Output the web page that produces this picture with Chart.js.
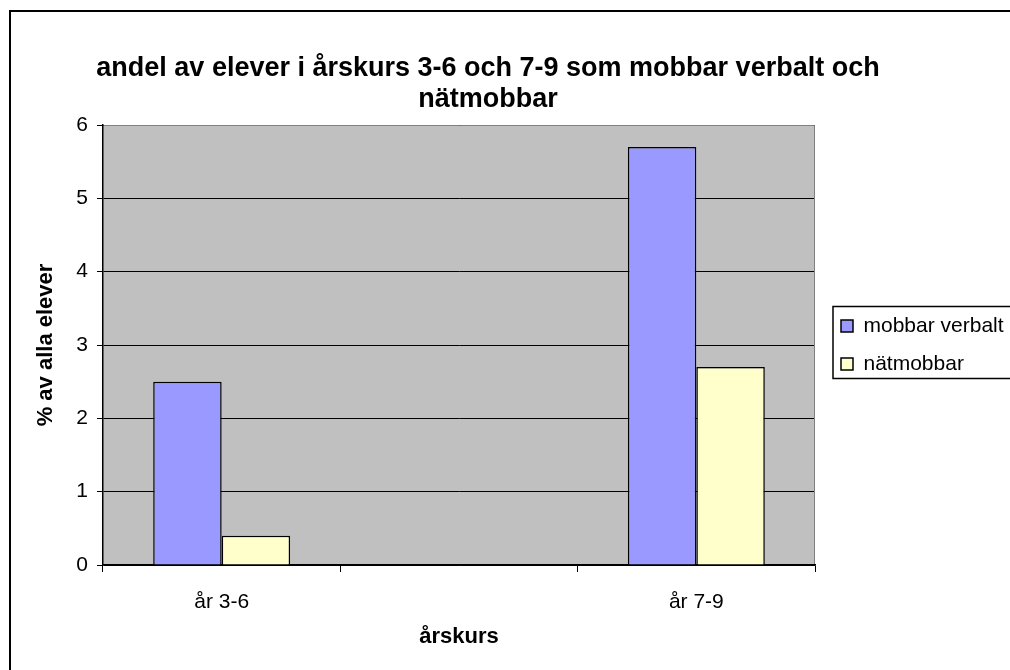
<!DOCTYPE html>
<html>
<head>
<meta charset="utf-8">
<script src="https://cdn.jsdelivr.net/npm/chart.js@4.4.0/dist/chart.umd.min.js"></script>
<style>
  html, body { margin: 0; padding: 0; background: #fff; overflow: hidden; }
  canvas { display: block; }
</style>
</head>
<body>
<canvas id="chart" width="1040" height="690"></canvas>
<script>
const categories = ["år 3-6", "", "år 7-9"];
const verbalValues = [2.5, null, 5.7];
const natValues = [0.4, null, 2.7];
const seriesNames = ["mobbar verbalt", "nätmobbar"];
const yTicks = [0, 1, 2, 3, 4, 5, 6];
const titleLines = ["andel av elever i årskurs 3-6 och 7-9 som mobbar verbalt och", "nätmobbar"];

Chart.defaults.font.family = '"Liberation Sans", Arial, sans-serif';
Chart.defaults.color = "#000";

// excel look: grey plot area, grey top/right edge, legend frame, outer frame
const excelFrame = {
  id: "excelFrame",
  afterLayout(chart) {
    chart.legend.left += 9;
    chart.legend.right += 9;
    // title is centred a bit left of the full width, like the original
    const t = chart.titleBlock;
    const shift = 488 - (t.left + t.right) / 2;
    t.left += shift;
    t.right += shift;
  },
  beforeDraw(chart) {
    const { ctx, chartArea: a } = chart;
    ctx.save();
    ctx.fillStyle = "#c0c0c0";
    ctx.fillRect(a.left, a.top, a.right - a.left, a.bottom - a.top);
    ctx.restore();
  },
  afterDraw(chart) {
    const { ctx, chartArea: a } = chart;
    const hb = chart.legend.legendHitBoxes;
    ctx.save();
    ctx.strokeStyle = "#808080";
    ctx.lineWidth = 1;
    ctx.beginPath();
    ctx.moveTo(a.left + 1, a.top + 0.5);
    ctx.lineTo(a.right - 0.5, a.top + 0.5);
    ctx.lineTo(a.right - 0.5, a.bottom - 1);
    ctx.stroke();

    ctx.strokeStyle = "#000";
    ctx.lineWidth = 1.5;
    const top = hb[0].top - 9;
    const bottom = hb[1].top + hb[1].height + 4;
    ctx.strokeRect(hb[0].left - 8, top, chart.width, bottom - top);

    ctx.lineWidth = 2;
    ctx.strokeRect(10, 11, chart.width - 20, chart.height - 22);
    ctx.restore();
  },
};

new Chart(document.getElementById("chart"), {
  type: "bar",
  data: {
    labels: categories,
    datasets: [
      {
        label: seriesNames[0],
        data: verbalValues,
        backgroundColor: "#9999ff",
        borderColor: "#000",
        borderWidth: 1.5,
      },
      {
        label: seriesNames[1],
        data: natValues,
        backgroundColor: "#ffffcc",
        borderColor: "#000",
        borderWidth: 1.5,
      },
    ],
  },
  options: {
    responsive: false,
    animation: false,
    layout: { padding: { left: 30, top: 12, right: 40, bottom: 12 } },
    datasets: { bar: { barPercentage: 1, categoryPercentage: 0.577 } },
    plugins: {
      title: {
        display: true,
        text: titleLines,
        font: { size: 27, weight: "bold", lineHeight: 31 / 27 },
        padding: { top: 41.5, bottom: 9.5 },
      },
      legend: {
        position: "right",
        maxWidth: 185,
        labels: {
          font: { size: 21 },
          boxWidth: 12,
          boxHeight: 12,
          padding: 17,
        },
      },
      tooltip: { enabled: false },
    },
    scales: {
      x: {
        afterFit(scale) {
          scale.height = 113;
        },
        grid: { offset: true, drawOnChartArea: false, drawTicks: true, tickLength: 7, color: "#000" },
        border: { color: "#000", width: 1.5 },
        ticks: { padding: 18, font: { size: 21 }, maxRotation: 0, autoSkip: false },
        title: {
          display: true,
          text: "årskurs",
          font: { size: 22, weight: "bold" },
          padding: { top: 0, bottom: 28 },
        },
      },
      y: {
        min: yTicks[0],
        max: yTicks[yTicks.length - 1],
        afterFit(scale) {
          scale.width = 73;
        },
        afterBuildTicks(scale) {
          scale.ticks = yTicks.map((v) => ({ value: v }));
        },
        grid: { color: "#000", lineWidth: 1, tickLength: 6 },
        border: { color: "#000", width: 1.5 },
        ticks: { padding: 9, font: { size: 21 } },
        title: {
          display: true,
          text: "% av alla elever",
          font: { size: 22, weight: "bold" },
          padding: { top: 3, bottom: 0 },
        },
      },
    },
  },
  plugins: [excelFrame],
});
</script>
</body>
</html>
